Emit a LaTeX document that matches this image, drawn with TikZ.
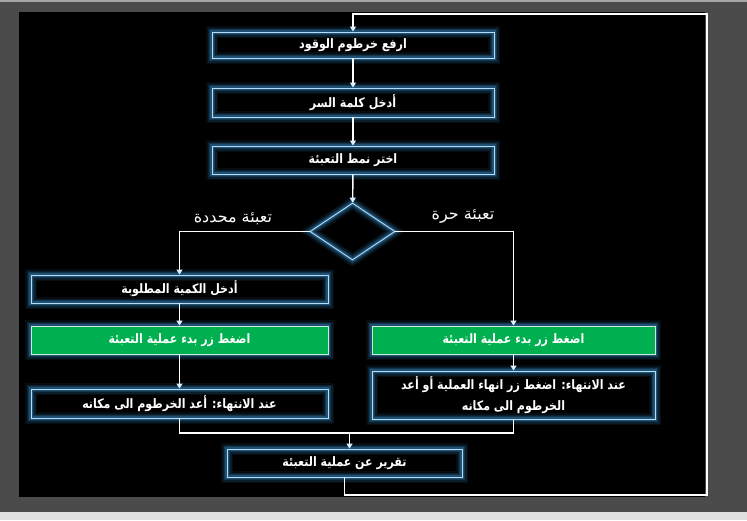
\documentclass[tikz,border=0pt]{standalone}
\usepackage{fontspec}
\usetikzlibrary{arrows.meta,shapes.geometric}
\TeXXeTstate=1
\newfontfamily\arabicfont[Script=Arabic,FakeStretch=0.85]{DejaVu Sans}
\newfontfamily\labelfont[Script=Arabic]{DejaVu Sans}
\definecolor{bggray}{HTML}{4B4B4B}
\definecolor{boxline}{HTML}{B4DCF5}
\definecolor{glowblue}{HTML}{3A92D4}
\definecolor{fillgreen}{HTML}{00B050}
\definecolor{greenline}{HTML}{C8F0D8}
\definecolor{tipcol}{HTML}{DCEEFF}
\tikzset{
  glow/.style={
    preaction={draw=glowblue, line width=12pt, opacity=0.09},
    preaction={draw=glowblue, line width=9pt, opacity=0.13},
    preaction={draw=glowblue, line width=6pt, opacity=0.2},
    preaction={draw=glowblue, line width=3.5pt, opacity=0.3}},
  stepbox/.style={glow, draw=boxline, line width=0.9pt, rectangle,
    inner sep=0pt, text=white, align=center,
    font=\arabicfont\bfseries\fontsize{13}{16}\selectfont},
  greenbox/.style={stepbox, fill=fillgreen, draw=greenline},
  decision/.style={glow, draw=boxline, line width=0.9pt, diamond,
    inner sep=0pt, minimum width=85pt, minimum height=57pt},
  branchlabel/.style={text=white, inner sep=0pt,
    font=\labelfont\fontsize{16}{18}\selectfont},
  conn/.style={draw=white, line width=1.4pt},
  arr/.style={conn, -{Triangle[width=6pt,length=5pt,fill=tipcol,color=tipcol]}},
}
\newcommand{\ar}[1]{\beginR #1\endR}
\begin{document}
\begin{tikzpicture}[x=1pt,y=-1pt]
\useasboundingbox (0,0) rectangle (747,520);
\fill[bggray] (0,0) rectangle (747,520);
\fill[gray!70] (0,0) rectangle (747,2);
\fill[gray!25] (0,512) rectangle (747,520);
\fill[black] (19,12) rectangle (705,497);

\node[stepbox, minimum width=282pt, minimum height=26pt] (b1) at (353,45) {\ar{ارفع خرطوم الوقود}};
\node[stepbox, minimum width=282pt, minimum height=29pt] (b2) at (353,102.5) {\ar{أدخل كلمة السر}};
\node[stepbox, minimum width=282pt, minimum height=28pt] (b3) at (353,160) {\ar{اختر نمط التعبئة}};
\node[decision] (dia) at (352.5,231.5) {};

\node[branchlabel] (labL) at (233,219) {\ar{تعبئة محددة}};
\node[branchlabel] (labR) at (463,217) {\ar{تعبئة حرة}};

\node[stepbox, minimum width=297pt, minimum height=28pt] (l1) at (179.5,289) {\ar{أدخل الكمية المطلوبة}};
\node[greenbox, minimum width=297pt, minimum height=28pt] (l2) at (179.5,340) {\ar{اضغط زر بدء عملية التعبئة}};
\node[stepbox, minimum width=297pt, minimum height=29pt] (l3) at (179.5,403.5) {\ar{عند الانتهاء: أعد الخرطوم الى مكانه}};

\node[greenbox, minimum width=283pt, minimum height=28pt] (r1) at (513.5,340) {\ar{اضغط زر بدء عملية التعبئة}};
\node[stepbox, minimum width=283pt, minimum height=48pt] (r2) at (513.5,395) {\ar{عند الانتهاء: اضغط زر انهاء العملية أو أعد}\\[5pt]\ar{الخرطوم الى مكانه}};

\node[stepbox, minimum width=235pt, minimum height=28pt] (fin) at (344.5,463) {\ar{تقرير عن عملية التعبئة}};

\coordinate (loopbr) at (707,495);
\coordinate (looptr) at (707,14);
\coordinate (mj) at (349.5,433);

\draw[arr] (b1) -- (b2);
\draw[arr] (b2) -- (b3);
\draw[arr] (b3) -- (dia);
\draw[arr] (dia.west) -| (l1.north);
\draw[arr] (dia.east) -| (r1.north);
\draw[arr] (l1) -- (l2);
\draw[arr] (l2) -- (l3);
\draw[arr] (r1) -- (r2);
\draw[conn] (l3.south) |- (mj);
\draw[conn] (r2.south) |- (mj);
\draw[arr] (mj) -- (mj |- fin.north);
\draw[arr] (fin.south) |- (loopbr) -- (looptr) -| (b1.north);
\end{tikzpicture}
\end{document}
